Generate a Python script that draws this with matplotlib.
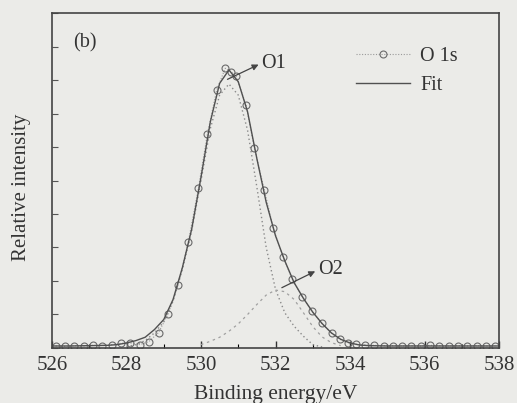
import matplotlib.pyplot as plt

plt.rcParams['font.family'] = ['Liberation Serif', 'DejaVu Serif']

# measured O 1s points
data_x = [526.10, 526.35, 526.60, 526.85, 527.10, 527.35, 527.60, 527.85, 528.10,
          528.36, 528.60, 528.86, 529.12, 529.39, 529.66, 529.93, 530.17, 530.42,
          530.65, 530.80, 530.94, 531.21, 531.43, 531.70, 531.94, 532.21, 532.45,
          532.72, 532.97, 533.24, 533.51, 533.73, 533.95, 534.15, 534.40, 534.65,
          534.90, 535.15, 535.40, 535.65, 535.90, 536.15, 536.40, 536.65, 536.90,
          537.15, 537.40, 537.65, 537.90]
data_y = [0.06, 0.05, 0.07, 0.06, 0.08, 0.07, 0.10, 0.14, 0.15,
          0.10, 0.19, 0.46, 1.02, 1.88, 3.17, 4.77, 6.38, 7.70,
          8.35, 8.25, 8.12, 7.25, 5.98, 4.72, 3.57, 2.71, 2.05,
          1.53, 1.11, 0.74, 0.44, 0.26, 0.16, 0.11, 0.09, 0.08,
          0.07, 0.07, 0.06, 0.07, 0.06, 0.08, 0.07, 0.06, 0.07,
          0.06, 0.07, 0.06, 0.07]

# total fit
fit_x = [526.0, 526.5, 527.0, 527.5, 527.75, 528.0, 528.25, 528.5, 528.75, 529.0,
         529.25, 529.5, 529.75, 530.0, 530.25, 530.5, 530.75, 531.0, 531.25, 531.5,
         531.75, 532.0, 532.25, 532.5, 532.75, 533.0, 533.25, 533.5, 533.75, 534.0,
         534.25, 534.5, 535.0, 536.0, 537.0, 538.0]
fit_y = [0.06, 0.06, 0.07, 0.08, 0.10, 0.15, 0.22, 0.32, 0.55, 0.85,
         1.45, 2.40, 3.55, 5.10, 6.75, 7.90, 8.30, 7.95, 7.05, 5.65,
         4.35, 3.35, 2.60, 1.95, 1.48, 1.07, 0.73, 0.45, 0.26, 0.15,
         0.09, 0.07, 0.06, 0.06, 0.06, 0.06]

# O1 component
o1_x = [528.0, 528.25, 528.5, 528.75, 529.0, 529.25, 529.5, 529.75, 530.0, 530.25,
        530.5, 530.75, 531.0, 531.25, 531.5, 531.75, 532.0, 532.25, 532.5, 532.75,
        533.0, 533.25]
o1_y = [0.04, 0.10, 0.22, 0.45, 0.78, 1.40, 2.35, 3.50, 5.00, 6.55,
        7.55, 7.88, 7.55, 6.50, 4.80, 3.00, 1.75, 1.05, 0.65, 0.35,
        0.10, 0.03]

# O2 component
o2_x = [530.0, 530.25, 530.5, 530.75, 531.0, 531.25, 531.5, 531.75, 532.0, 532.25,
        532.5, 532.75, 533.0, 533.25, 533.5, 533.75]
o2_y = [0.10, 0.20, 0.32, 0.50, 0.72, 1.00, 1.30, 1.58, 1.73, 1.68,
        1.45, 1.05, 0.64, 0.33, 0.16, 0.07]

bg = '#ebebe8'
fig = plt.figure(figsize=(5.17, 4.03), dpi=100, facecolor=bg)
ax = fig.add_axes([0.1006, 0.1365, 0.8646, 0.8312], facecolor=bg)

ax.plot(o1_x, o1_y, linestyle=(0, (1, 2)), color='#8a8a8a', linewidth=1.0)
ax.plot(o2_x, o2_y, linestyle=(0, (2, 3)), color='#a0a0a0', linewidth=0.9)
ax.plot(data_x, data_y, linestyle=(0, (1, 1.5)), color='#9a9a9a', linewidth=0.8,
        marker='o', markersize=5, markerfacecolor='none', markeredgecolor='#6a6a6a',
        markeredgewidth=0.8, label='O 1s')
ax.plot(fit_x, fit_y, '-', color='#505050', linewidth=1.0, label='Fit')

ax.set_xlim(526, 538)
ax.set_ylim(0, 10)
ax.set_xticks([526, 528, 530, 532, 534, 536, 538])
ax.set_xticks([527, 529, 531, 533, 535, 537], minor=True)
ax.set_yticks(range(0, 11))
ax.set_yticklabels([])
ax.tick_params(axis='x', direction='in', length=5, width=1, labelsize=15,
               colors='#333333', pad=6)
ax.tick_params(axis='x', which='minor', direction='in', length=3, width=0.8)
ax.tick_params(axis='y', direction='in', length=4, width=0.8, colors='#555555')
for s in ax.spines.values():
    s.set_color('#444444')
    s.set_linewidth(1.2)

ax.set_xlabel('Binding energy/eV', fontsize=15.5, color='#333333', labelpad=7)
ax.set_ylabel('Relative intensity', fontsize=15, color='#333333')
ax.yaxis.set_label_coords(-0.046, 0.48)

ax.text(526.56, 9.1, '(b)', fontsize=14.5, color='#333333', va='center')
ax.annotate('O1', xy=(530.71, 8.02), xytext=(531.62, 8.5), fontsize=14.5, color='#333333',
            va='center',
            arrowprops=dict(arrowstyle='<|-', color='#444444', lw=0.9,
                            mutation_scale=9, shrinkA=0, shrinkB=0,
                            relpos=(0, 0.5)))
ax.annotate('O2', xy=(532.17, 1.80), xytext=(533.14, 2.33), fontsize=14.5, color='#333333',
            va='center',
            arrowprops=dict(arrowstyle='<|-', color='#444444', lw=0.9,
                            mutation_scale=9, shrinkA=0, shrinkB=0,
                            relpos=(0, 0.5)))

ax.legend(loc='upper left', bbox_to_anchor=(0.68, 0.90), frameon=False,
          fontsize=14.5, handlelength=2.7, handletextpad=0.5, labelspacing=0.5,
          borderpad=0, borderaxespad=0, labelcolor='#333333')

fig.savefig('out.png', dpi=100, facecolor=bg)
